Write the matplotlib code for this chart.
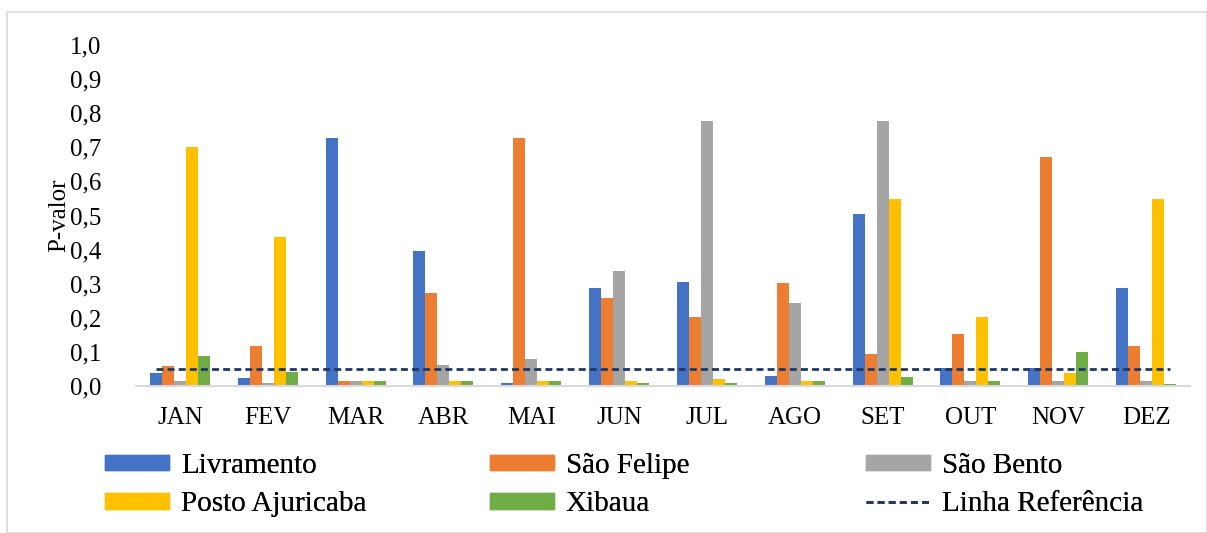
import numpy as np
import matplotlib.pyplot as plt
from matplotlib.lines import Line2D
from matplotlib.patches import Rectangle

plt.rcParams['font.family'] = ['Liberation Serif', 'DejaVu Serif']

meses = ['JAN', 'FEV', 'MAR', 'ABR', 'MAI', 'JUN', 'JUL', 'AGO', 'SET', 'OUT', 'NOV', 'DEZ']
livramento = [0.038, 0.024, 0.727, 0.397, 0.010, 0.288, 0.305, 0.030, 0.503, 0.052, 0.052, 0.288]
sao_felipe = [0.058, 0.117, 0.015, 0.273, 0.727, 0.258, 0.202, 0.302, 0.095, 0.153, 0.673, 0.117]
sao_bento = [0.015, 0.010, 0.015, 0.063, 0.080, 0.337, 0.777, 0.243, 0.777, 0.015, 0.015, 0.015]
posto_ajuricaba = [0.700, 0.437, 0.015, 0.015, 0.015, 0.015, 0.020, 0.015, 0.548, 0.202, 0.037, 0.548]
xibaua = [0.088, 0.040, 0.015, 0.015, 0.015, 0.008, 0.010, 0.015, 0.025, 0.015, 0.100, 0.005]
referencia = 0.05

series = [livramento, sao_felipe, sao_bento, posto_ajuricaba, xibaua]
nomes = ['Livramento', 'São Felipe', 'São Bento', 'Posto Ajuricaba', 'Xibaua']
cores = ['#4472C4', '#ED7D31', '#A5A5A5', '#FFC000', '#70AD47']
cor_ref = '#203864'

fig = plt.figure(figsize=(12.07, 5.33), dpi=100)
ax = fig.add_axes([136/1207, 1 - 386/533, (1190 - 136)/1207, (386 - 45)/533])

x = np.arange(len(meses))
w = 0.137
for i, (s, c) in enumerate(zip(series, cores)):
    ax.bar(x + (i - 2) * w, s, width=w, color=c, label=nomes[i])
ax.plot([x[0] - 2 * w, x[-1] + 2 * w], [referencia, referencia], color=cor_ref,
        lw=2, dashes=(2.5, 1.5))

ax.set_xlim(-0.5, len(meses) - 0.5)
ax.set_ylim(0, 1.0)
yt = np.arange(0, 1.01, 0.1)
ax.set_yticks(yt)
ax.set_yticklabels([f'{v:.1f}'.replace('.', ',') for v in yt])
ax.set_xticks(x)
ax.set_xticklabels(meses)
ax.tick_params(axis='both', length=0, labelsize=18)
ax.tick_params(axis='y', pad=25)
ax.tick_params(axis='x', pad=15)
for sp in ['top', 'right', 'left']:
    ax.spines[sp].set_visible(False)
ax.spines['bottom'].set_color('#D9D9D9')
ax.spines['bottom'].set_linewidth(1.5)
ax.set_ylabel('P-valor', fontsize=18, labelpad=0)

# legenda: 3 colunas, 2 linhas
barra = lambda c: Rectangle((0, 0), 1, 1, color=c)
colunas = [
    ([barra(cores[0]), barra(cores[3])], [nomes[0], nomes[3]], 105),
    ([barra(cores[1]), barra(cores[4])], [nomes[1], nomes[4]], 490),
    ([barra(cores[2]), Line2D([0], [0], color=cor_ref, lw=2, dashes=(2.5, 1.5))],
     [nomes[2], 'Linha Referência'], 866),
]
for hs, ls, xp in colunas:
    leg = fig.legend(hs, ls, loc='center left', bbox_to_anchor=(xp/1207, 1 - 485/533),
                     frameon=False, prop={'family': ['Liberation Serif', 'DejaVu Serif'], 'size': 21},
                     handlelength=2.2, handleheight=0.45,
                     handletextpad=0.4, labelspacing=0.42, borderpad=0, borderaxespad=0)
    fig.add_artist(leg)

fig.patches.append(Rectangle((7/1207, 0), 1 - 7/1207, 1 - 12/533, transform=fig.transFigure,
                             fill=False, edgecolor='#D9D9D9', lw=1.2))

fig.savefig('out.png', dpi=100)
